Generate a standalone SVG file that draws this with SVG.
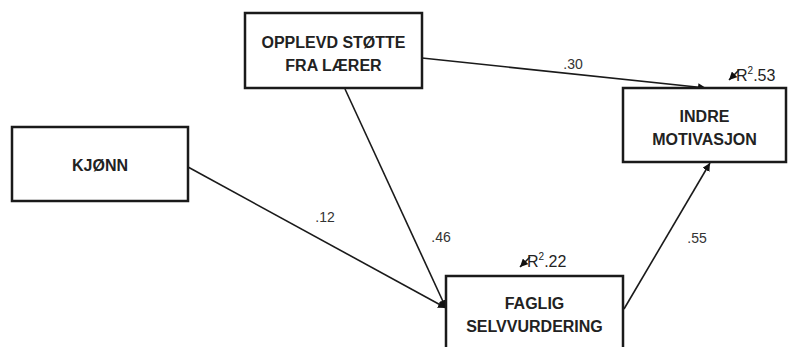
<svg xmlns="http://www.w3.org/2000/svg" width="789" height="347" viewBox="0 0 789 347">
<defs>
<marker id="ah" viewBox="0 0 10 10" refX="10" refY="5" markerWidth="8" markerHeight="8" orient="auto" markerUnits="userSpaceOnUse">
<path d="M0,0 L10,5 L0,10 z" fill="#111"/>
</marker>
<style>
.box{fill:#fff;stroke:#1a1a1a;stroke-width:2.5}
.nt{font-family:"Liberation Sans",Arial,sans-serif;font-weight:bold;font-size:16px;fill:#222;text-anchor:middle}
.lb{font-family:"Liberation Sans",Arial,sans-serif;font-size:14px;fill:#333;text-anchor:middle}
.rl{font-family:"Liberation Sans",Arial,sans-serif;font-size:16px;fill:#222}
.cn{stroke:#1a1a1a;stroke-width:1.6;fill:none;marker-end:url(#ah)}
</style>
</defs>
<rect width="789" height="347" fill="#fff"/>
<g id="connectors">
<line class="cn" x1="422" y1="58" x2="706" y2="88"/>
<line class="cn" x1="345" y1="89" x2="446" y2="308"/>
<line class="cn" x1="188" y1="167" x2="446" y2="308"/>
<line class="cn" x1="624" y1="309" x2="710" y2="163"/>
<line class="cn" x1="739" y1="70" x2="729" y2="80"/>
<line class="cn" x1="530" y1="257" x2="520" y2="267"/>
</g>
<g id="labels">
<text class="lb" x="573" y="69">.30</text>
<text class="lb" x="325" y="222">.12</text>
<text class="lb" x="441" y="242">.46</text>
<text class="lb" x="697" y="243">.55</text>
<text class="rl" x="736" y="81">R<tspan font-size="10" dy="-7">2</tspan><tspan dy="7">.53</tspan></text>
<text class="rl" x="527" y="267">R<tspan font-size="10" dy="-7">2</tspan><tspan dy="7">.22</tspan></text>
</g>
<g id="opplevd">
<rect class="box" x="245" y="13" width="177" height="75"/>
<text class="nt" x="333.5" y="48">OPPLEVD STØTTE</text>
<text class="nt" x="333.5" y="71">FRA LÆRER</text>
</g>
<g id="kjonn">
<rect class="box" x="12" y="127" width="176" height="74"/>
<text class="nt" x="100" y="171">KJØNN</text>
</g>
<g id="indre">
<rect class="box" x="623" y="88" width="163" height="74"/>
<text class="nt" x="704.5" y="122">INDRE</text>
<text class="nt" x="704.5" y="145">MOTIVASJON</text>
</g>
<g id="faglig">
<rect class="box" x="446" y="276" width="177" height="80"/>
<text class="nt" x="534.5" y="309">FAGLIG</text>
<text class="nt" x="534.5" y="332">SELVVURDERING</text>
</g>
</svg>
